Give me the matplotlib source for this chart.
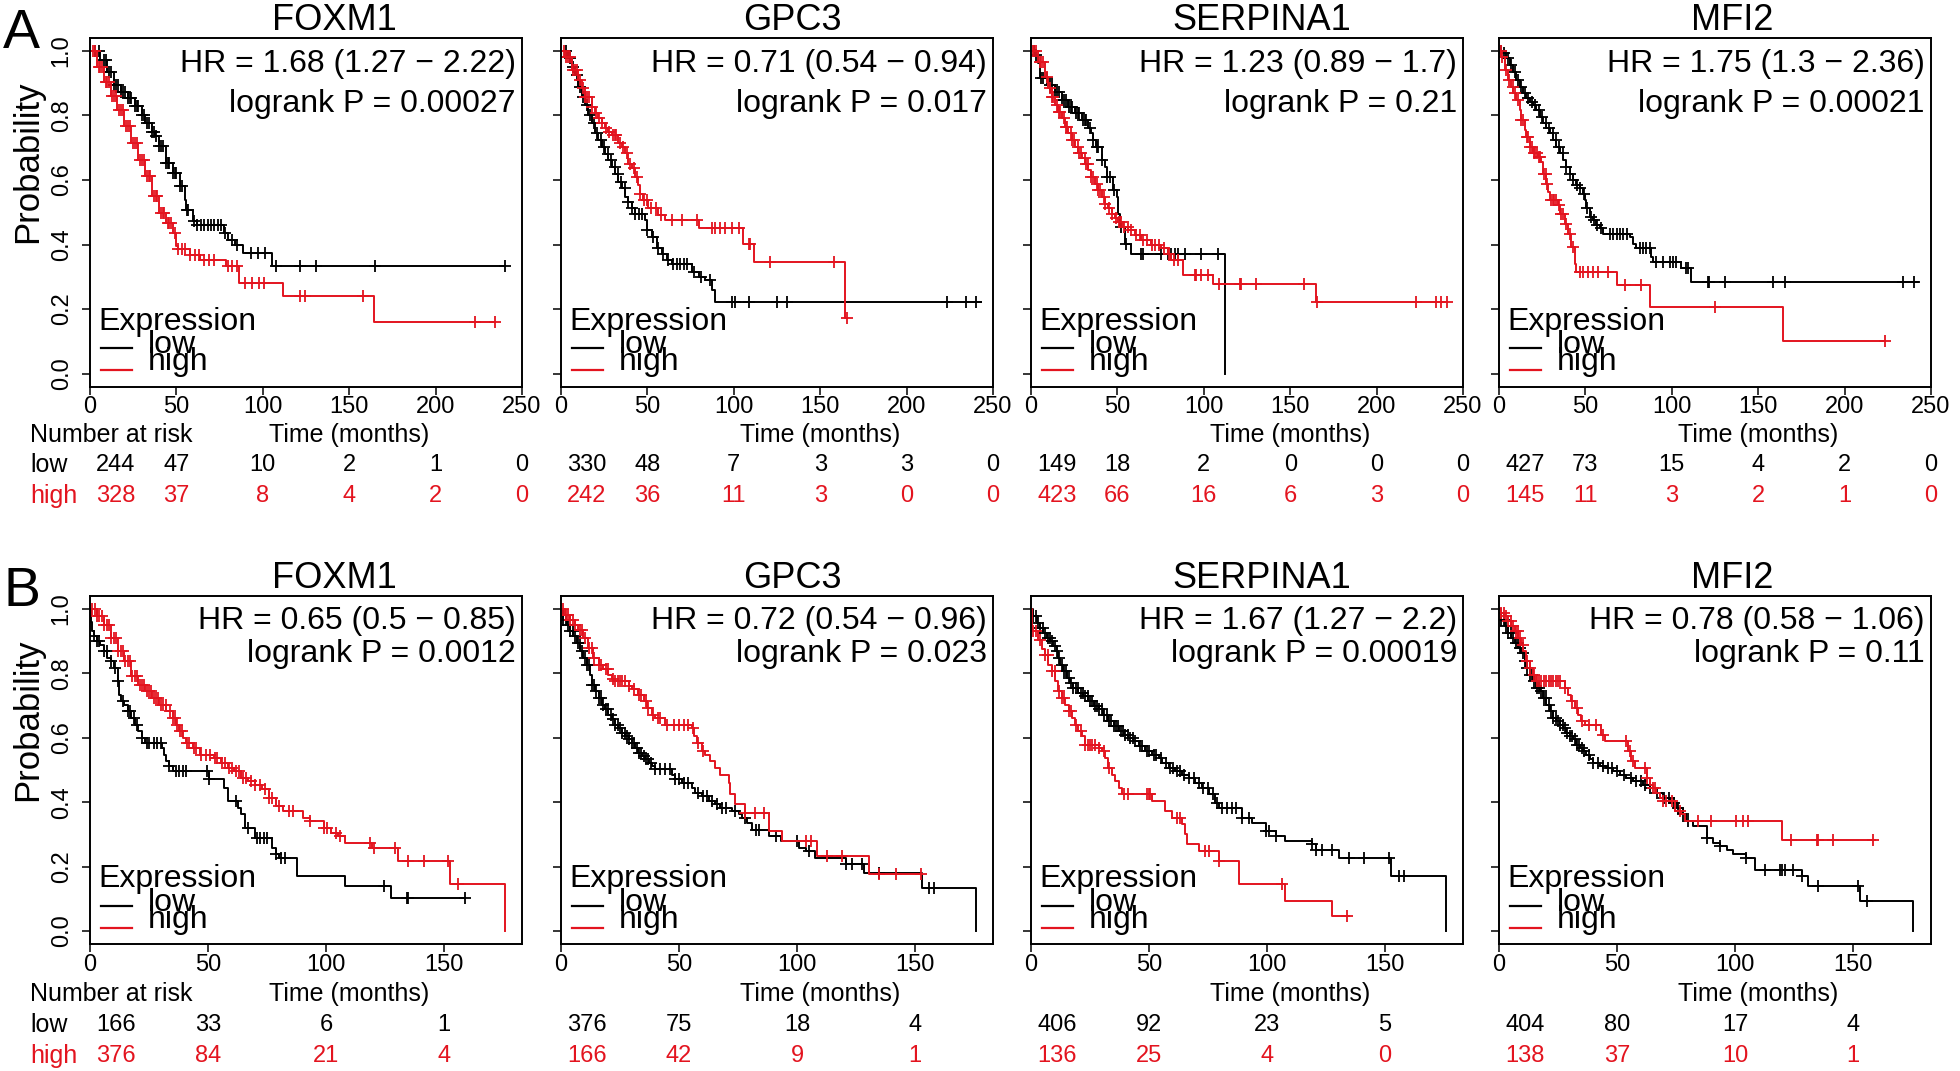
import matplotlib.pyplot as plt
import matplotlib.transforms as mtransforms
from matplotlib import font_manager
import numpy as np

plt.rcParams['font.family'] = ['Liberation Sans', 'DejaVu Sans']

# the risk table and tick labels use a condensed face in the original
_names = {f.name for f in font_manager.fontManager.ttflist}
NARROW = 'Liberation Sans Narrow' if 'Liberation Sans Narrow' in _names else 'Liberation Sans'

LOW = 'black'
HIGH = '#e3141f'

# ---------------- row A (top) ----------------
a1_low_t = [0, 6.0, 10.0, 13.9, 17.9, 21.9, 25.9, 29.9, 31.9, 35.9, 37.8, 39.8, 43.8, 47.8, 51.8, 54.8, 55.8, 59.8, 61.8, 77.7, 79.7, 83.7, 88.6, 105.6]
a1_low_s = [1.0, 0.972, 0.936, 0.895, 0.874, 0.853, 0.828, 0.802, 0.776, 0.750, 0.735, 0.704, 0.652, 0.621, 0.580, 0.539, 0.508, 0.472, 0.461, 0.435, 0.415, 0.399, 0.374, 0.332]
a1_low_end = 240
a1_low_c = [3, 5, 8, 9, 11, 12, 14, 15, 16, 18, 19, 20, 22, 23, 24, 26, 27, 28, 30, 31, 33, 34, 36, 37, 38, 40, 41, 42, 44, 45, 46, 48, 49, 50, 52, 53, 56, 57, 60, 62, 64, 66, 68, 70, 72, 74, 76, 78, 82, 85, 93, 97, 101, 107.6, 121.5, 130.5, 165, 240]
a1_high_t = [0, 4.0, 8.0, 12.0, 15.9, 19.9, 23.9, 27.9, 31.9, 35.9, 39.8, 43.8, 47.8, 49.8, 50.8, 57.8, 63.7, 78.7, 86.3, 111.6, 164.3]
a1_high_s = [1.0, 0.951, 0.905, 0.859, 0.817, 0.766, 0.714, 0.663, 0.611, 0.549, 0.497, 0.466, 0.436, 0.394, 0.386, 0.368, 0.353, 0.332, 0.281, 0.239, 0.159]
a1_high_end = 234.5
a1_high_c = [2, 3, 5, 6, 7, 9, 10, 11, 13, 14, 15, 17, 18, 19, 21, 22, 23, 25, 26, 27, 29, 30, 31, 33, 34, 35, 37, 38, 39, 41, 42, 43, 45, 46, 47, 49, 51, 53, 55, 58, 61, 63, 66, 69, 72, 80, 82, 85, 89.6, 93.6, 97.6, 100.6, 121.5, 124.5, 158, 223, 234.5]

a2_low_t = [0, 4.3, 6.2, 8.1, 10.0, 12.0, 13.9, 15.8, 17.8, 19.7, 21.6, 23.6, 25.5, 27.4, 29.4, 31.3, 33.2, 35.2, 37.1, 39.0, 41.0, 42.9, 48.7, 49.7, 52.5, 55.4, 58.3, 61.2, 64.1, 75.7, 79.6, 83.5, 87.3, 88.9]
a2_low_s = [1.0, 0.977, 0.951, 0.925, 0.889, 0.858, 0.832, 0.801, 0.776, 0.745, 0.724, 0.703, 0.682, 0.662, 0.641, 0.620, 0.595, 0.574, 0.548, 0.533, 0.512, 0.496, 0.476, 0.445, 0.424, 0.388, 0.372, 0.352, 0.341, 0.315, 0.300, 0.290, 0.259, 0.222]
a2_low_end = 243
a2_low_c = [3, 5, 7, 9, 11, 13, 15, 17, 19, 21, 23, 25, 27, 29, 31, 33, 35, 37, 39, 41, 43, 45, 47, 50, 53, 56, 59, 62, 65, 67, 69, 71, 73, 77, 81, 86, 98.9, 100.8, 108.6, 125, 130.8, 223.5, 234.5, 240]
a2_high_t = [0, 2.3, 6.2, 10.0, 12.0, 13.9, 17.8, 19.7, 21.6, 23.6, 25.5, 27.4, 29.4, 33.2, 35.2, 37.1, 39.0, 41.0, 42.9, 44.8, 45.8, 47.7, 50.6, 56.4, 60.3, 79.6, 105.1, 111.5, 164.6]
a2_high_s = [1.0, 0.982, 0.941, 0.910, 0.884, 0.858, 0.827, 0.807, 0.791, 0.776, 0.760, 0.750, 0.739, 0.714, 0.703, 0.683, 0.651, 0.636, 0.610, 0.584, 0.558, 0.538, 0.512, 0.491, 0.476, 0.450, 0.403, 0.346, 0.171]
a2_high_end = 165.6
a2_high_c = [2, 3, 4, 5, 7, 8, 9, 11, 13, 14, 15, 16, 18, 20, 22, 24, 26, 28, 30, 31, 32, 34, 36, 38, 40, 42, 44, 46, 48, 50, 52, 55, 58, 64, 70, 78.6, 87.3, 89.3, 92.2, 95, 98.9, 102.8, 108.6, 109.5, 121, 157.8, 165.6]

a3_low_t = [0, 2.3, 4.2, 5.2, 10.0, 13.9, 17.7, 21.6, 25.4, 29.3, 33.1, 35.0, 36.0, 37.9, 40.8, 42.7, 43.7, 47.5, 49.5, 50.4, 51.4, 54.3, 58.1, 112.0]
a3_low_s = [1.0, 0.988, 0.962, 0.915, 0.895, 0.874, 0.848, 0.827, 0.807, 0.786, 0.760, 0.745, 0.724, 0.703, 0.662, 0.641, 0.610, 0.569, 0.548, 0.496, 0.455, 0.403, 0.372, 0.0]
a3_low_end = 112.0
a3_low_c = [2, 3, 5.5, 7, 9, 11, 12, 14, 15, 16, 18, 19, 20, 22, 23, 24, 26, 27, 28, 30, 31, 32, 34, 36, 38, 39, 41, 44, 46, 48, 52, 55, 63.9, 64.9, 75.4, 79.3, 81.2, 83.1, 85, 88.9, 98.5, 108]
a3_high_t = [0, 4.2, 8.1, 10.0, 11.9, 13.9, 15.8, 17.7, 19.6, 21.6, 23.5, 25.4, 27.3, 29.3, 31.2, 33.1, 35.0, 37.0, 38.9, 40.8, 42.7, 44.6, 46.6, 48.5, 50.4, 53.3, 56.2, 60.0, 63.9, 69.7, 75.4, 79.3, 81.2, 88.0, 105.3, 164.9]
a3_high_s = [1.0, 0.967, 0.920, 0.884, 0.858, 0.832, 0.812, 0.791, 0.765, 0.745, 0.724, 0.703, 0.683, 0.667, 0.651, 0.631, 0.610, 0.589, 0.569, 0.548, 0.527, 0.512, 0.496, 0.481, 0.471, 0.455, 0.445, 0.429, 0.414, 0.398, 0.388, 0.372, 0.352, 0.305, 0.279, 0.222]
a3_high_end = 241
a3_high_c = [1, 2, 3, 5, 6, 7, 9, 11, 12, 13, 15, 16, 17, 19, 20, 21, 23, 24, 25, 27, 28, 29, 31, 32, 33, 35, 36, 38, 39, 40, 42, 43, 45, 47, 49, 51, 52, 54, 56, 58, 61, 63, 65, 67, 70, 72, 74, 77, 80, 83, 85, 94.7, 95.6, 98.5, 102.4, 109, 120.7, 121.6, 130.3, 158.2, 165.5, 222.7, 234.2, 237, 241]

a4_low_t = [0, 2.3, 4.2, 6.2, 8.1, 10.0, 12.0, 13.9, 15.8, 17.8, 19.7, 21.6, 23.6, 25.5, 27.4, 29.3, 31.3, 33.2, 35.1, 37.1, 39.0, 40.9, 42.9, 44.8, 46.7, 48.6, 49.6, 50.6, 52.5, 54.4, 56.4, 58.3, 60.2, 75.7, 77.6, 79.5, 88.2, 89.2, 105.6, 111.4]
a4_low_s = [1.0, 0.993, 0.977, 0.957, 0.936, 0.910, 0.889, 0.869, 0.853, 0.843, 0.832, 0.817, 0.796, 0.776, 0.760, 0.745, 0.724, 0.703, 0.683, 0.662, 0.641, 0.620, 0.600, 0.584, 0.574, 0.558, 0.538, 0.512, 0.486, 0.476, 0.460, 0.450, 0.434, 0.424, 0.403, 0.388, 0.362, 0.346, 0.326, 0.284]
a4_low_end = 242.7
a4_low_c = [1, 3, 5, 7, 9, 11, 13, 15, 17, 19, 21, 23, 25, 27, 29, 31, 33, 35, 37, 39, 41, 43, 45, 47, 49, 51, 53, 55, 57, 59, 64, 66, 68, 70, 72, 74, 81.5, 83.4, 85.3, 87.3, 91, 95, 98.8, 100.8, 102.7, 108.5, 109.5, 121, 121.6, 130.7, 158.3, 165.4, 234, 240.2]
a4_high_t = [0, 1.4, 3.3, 5.2, 7.1, 8.1, 10.0, 12.0, 12.9, 14.9, 15.8, 17.8, 19.7, 22.6, 24.5, 25.5, 27.4, 28.4, 29.3, 34.2, 35.1, 38.0, 40.0, 41.9, 43.8, 44.8, 68.0, 87.3, 164.5]
a4_high_s = [1.0, 0.982, 0.941, 0.910, 0.889, 0.869, 0.848, 0.817, 0.786, 0.755, 0.734, 0.703, 0.683, 0.672, 0.657, 0.620, 0.589, 0.564, 0.538, 0.522, 0.496, 0.465, 0.434, 0.393, 0.341, 0.315, 0.274, 0.207, 0.101]
a4_high_end = 223.4
a4_high_c = [1, 2, 4, 6, 8, 9, 11, 13, 14, 16, 17, 18, 19, 20, 21, 22, 23, 24, 26, 27, 28, 30, 31, 32, 33, 35, 36, 37, 39, 41, 43, 46.7, 48.6, 51.5, 54.4, 57.3, 63.1, 72.8, 82.4, 125, 223.4]

# ---------------- row B (bottom) ----------------
b1_low_t = [0, 0.5, 1.0, 1.5, 2.9, 4.4, 5.8, 7.3, 8.7, 10.2, 11.7, 12.4, 13.1, 14.6, 16.0, 17.5, 19.0, 20.4, 21.9, 23.3, 30.6, 31.3, 32.1, 33.5, 35.0, 50.3, 56.9, 58.3, 62.7, 64.1, 65.6, 70.0, 77.3, 78.7, 80.2, 87.5, 107.9, 127.6]
b1_low_s = [1.0, 0.96, 0.93, 0.915, 0.900, 0.889, 0.869, 0.848, 0.838, 0.817, 0.776, 0.734, 0.714, 0.703, 0.683, 0.662, 0.641, 0.620, 0.600, 0.584, 0.569, 0.548, 0.527, 0.512, 0.496, 0.471, 0.445, 0.403, 0.383, 0.362, 0.321, 0.290, 0.259, 0.238, 0.228, 0.171, 0.140, 0.103]
b1_low_end = 158.9
b1_low_c = [1.5, 3, 4, 6, 7, 9, 10.5, 12, 14, 16, 17, 18.5, 20, 22, 24, 25, 27, 28.5, 30, 33.5, 36.4, 37.9, 39.4, 40.8, 49.6, 50.3, 62, 67, 70.7, 72.2, 73.6, 75.1, 78.7, 80.9, 82.4, 124.6, 134.1, 134.8, 158.9]
b1_high_t = [0, 2.9, 5.8, 8.7, 11.7, 14.6, 17.5, 20.4, 23.3, 26.2, 29.2, 32.1, 35.0, 36.4, 37.9, 39.4, 40.8, 43.7, 46.6, 52.5, 55.4, 58.3, 61.2, 64.1, 67.1, 70.0, 72.9, 75.8, 78.7, 81.6, 90.4, 93.3, 99.1, 102.0, 105.0, 107.9, 119.5, 130.5, 152.3, 175.7]
b1_high_s = [1.0, 0.977, 0.951, 0.910, 0.869, 0.838, 0.791, 0.765, 0.745, 0.724, 0.703, 0.683, 0.662, 0.641, 0.620, 0.600, 0.584, 0.569, 0.548, 0.538, 0.522, 0.507, 0.496, 0.476, 0.465, 0.455, 0.440, 0.414, 0.388, 0.372, 0.352, 0.341, 0.321, 0.305, 0.295, 0.274, 0.259, 0.217, 0.145, 0.0]
b1_high_end = 175.7
b1_high_c = [1, 2, 3, 4, 5, 6, 7, 8, 9, 10, 11, 12, 13, 14, 15, 16, 17, 18, 19, 20, 21, 22, 23, 24, 25, 26, 27, 28, 29, 30, 31, 32, 34, 35, 36, 37, 38, 39, 41, 42, 44, 45, 47, 49, 51, 53, 54, 56, 57, 59, 60, 62, 63, 65, 66, 68, 70, 72, 74, 76, 77, 80, 84.5, 86, 93.3, 99.1, 100.6, 104.2, 105.7, 118.8, 120.3, 129, 134.8, 141.4, 151.6, 156]

b2_low_t = [0, 1.0, 2.4, 3.8, 5.2, 6.7, 8.1, 9.5, 10.9, 12.3, 13.0, 14.4, 15.9, 17.3, 18.7, 20.1, 21.5, 22.9, 24.3, 25.8, 27.2, 28.6, 30.0, 31.4, 32.8, 34.2, 35.7, 37.1, 38.5, 39.9, 47.0, 48.4, 51.2, 55.5, 56.9, 59.7, 62.6, 65.4, 67.5, 72.5, 75.3, 76.7, 78.8, 81.0, 88.0, 93.0, 100.8, 103.6, 107.8, 120.6, 128.4, 153.1, 175.8]
b2_low_s = [1.0, 0.967, 0.951, 0.931, 0.915, 0.895, 0.869, 0.848, 0.827, 0.796, 0.765, 0.745, 0.724, 0.703, 0.688, 0.672, 0.657, 0.641, 0.631, 0.615, 0.605, 0.595, 0.584, 0.569, 0.553, 0.543, 0.533, 0.522, 0.512, 0.502, 0.486, 0.471, 0.460, 0.445, 0.429, 0.419, 0.403, 0.393, 0.383, 0.372, 0.362, 0.352, 0.336, 0.315, 0.295, 0.279, 0.259, 0.248, 0.228, 0.207, 0.181, 0.134, 0.0]
b2_low_end = 175.8
b2_low_c = [1, 2, 3, 4, 5, 6, 7, 8, 9, 10, 11, 12, 13, 14, 15, 16, 17, 18, 19, 20, 21, 22, 23, 24, 25, 26, 27, 28, 29, 30, 31, 32, 33, 34, 35, 36, 37, 38, 40, 42, 44, 46, 48.4, 50, 52, 54, 58, 60, 62, 64, 66, 68, 70, 73.9, 78.1, 82.4, 83.8, 90.9, 100, 105, 120.6, 123.4, 127.7, 134.7, 156, 158]
b2_high_t = [0, 1.7, 3.8, 5.9, 7.4, 9.5, 11.6, 13.7, 15.9, 18.0, 20.1, 21.5, 22.9, 28.6, 30.0, 32.8, 35.0, 36.4, 38.5, 39.9, 44.2, 55.5, 56.2, 57.6, 59.7, 61.1, 63.3, 65.4, 67.5, 71.0, 71.8, 73.9, 78.1, 88.0, 93.7, 108.5, 130.5]
b2_high_s = [1.0, 0.982, 0.967, 0.951, 0.936, 0.910, 0.879, 0.848, 0.827, 0.812, 0.796, 0.781, 0.776, 0.760, 0.750, 0.734, 0.714, 0.693, 0.672, 0.662, 0.641, 0.631, 0.605, 0.584, 0.558, 0.548, 0.527, 0.507, 0.486, 0.460, 0.424, 0.393, 0.367, 0.310, 0.279, 0.233, 0.176]
b2_high_end = 153.1
b2_high_c = [1, 2, 3, 4, 5, 6, 8, 9, 10, 12, 13, 14, 16, 17, 19, 20, 22, 23, 24, 25, 26, 27, 29, 31, 33, 34, 36, 37, 39, 41, 42, 45, 48, 50, 52, 54, 56, 58, 60, 78.1, 82, 86, 103.6, 105.7, 112.8, 119.2, 134.7, 141.8, 152.4]

b3_low_t = [0, 1.0, 2.4, 3.8, 5.2, 6.7, 8.1, 9.5, 10.9, 11.6, 12.3, 13.7, 15.1, 16.6, 18.0, 20.1, 22.2, 24.3, 26.5, 28.6, 30.7, 32.8, 35.0, 37.1, 39.2, 41.3, 43.4, 45.6, 48.4, 51.2, 54.1, 55.5, 58.3, 61.1, 64.0, 66.8, 69.6, 72.5, 75.3, 78.1, 79.5, 89.4, 93.7, 99.4, 103.6, 107.8, 119.2, 120.6, 130.5, 152.4, 175.8]
b3_low_s = [1.0, 0.977, 0.957, 0.941, 0.926, 0.910, 0.900, 0.884, 0.869, 0.848, 0.827, 0.807, 0.786, 0.770, 0.755, 0.739, 0.729, 0.714, 0.698, 0.688, 0.672, 0.651, 0.636, 0.620, 0.610, 0.600, 0.589, 0.574, 0.558, 0.548, 0.538, 0.522, 0.507, 0.496, 0.486, 0.476, 0.460, 0.445, 0.424, 0.398, 0.383, 0.352, 0.336, 0.310, 0.295, 0.279, 0.269, 0.253, 0.228, 0.171, 0.0]
b3_low_end = 175.8
b3_low_c = [1, 2, 3, 4, 5, 6, 7, 8, 9, 10, 11, 12, 13, 14, 15, 16, 17, 18, 19, 20, 21, 22, 23, 24, 25, 26, 27, 28, 29, 30, 31, 32, 33, 34, 35, 36, 37, 38, 39, 40, 41, 42, 43, 44, 46, 47, 49, 50, 52, 53, 55, 57, 59, 60, 62, 63, 65, 67, 69, 71, 73, 75, 77, 79, 81, 83, 85, 87, 89.4, 92.3, 99.4, 100.8, 103.6, 119.2, 120.6, 123.4, 127.7, 134.7, 141.1, 151.7, 156, 158]
b3_high_t = [0, 0.3, 3.1, 4.5, 5.9, 7.4, 8.8, 10.2, 11.6, 13.0, 14.4, 15.9, 17.3, 18.7, 20.1, 21.5, 22.9, 28.6, 30.0, 31.4, 32.8, 34.2, 35.7, 37.1, 38.5, 51.2, 56.9, 59.7, 64.0, 65.4, 66.1, 71.0, 79.5, 88.0, 107.8, 127.7]
b3_high_s = [1.0, 0.931, 0.905, 0.874, 0.858, 0.827, 0.807, 0.776, 0.745, 0.724, 0.703, 0.683, 0.662, 0.641, 0.620, 0.605, 0.579, 0.569, 0.558, 0.538, 0.507, 0.486, 0.465, 0.445, 0.424, 0.403, 0.372, 0.352, 0.331, 0.300, 0.269, 0.248, 0.217, 0.145, 0.093, 0.047]
b3_high_end = 134.7
b3_high_c = [1, 2, 4, 6, 7, 9, 10, 12, 13, 14, 16, 17, 19, 21, 23, 24, 25, 26, 27, 29, 31, 33, 39.2, 41.3, 49.1, 49.8, 50.5, 61.8, 63.3, 73.9, 75.3, 79.5, 106.4, 134]

b4_low_t = [0, 1.0, 2.4, 3.8, 5.2, 6.6, 8.1, 9.5, 10.9, 11.6, 13.0, 14.4, 15.8, 17.2, 18.7, 20.1, 21.5, 22.9, 24.3, 25.7, 27.1, 28.5, 30.0, 31.4, 32.8, 34.2, 35.6, 37.0, 38.4, 39.8, 42.7, 45.5, 48.3, 51.2, 54.0, 56.8, 61.0, 63.9, 66.7, 69.5, 72.3, 75.2, 78.0, 79.4, 82.2, 87.9, 90.7, 93.5, 96.4, 99.2, 104.8, 108.4, 128.2, 131.0, 152.9, 175.5]
b4_low_s = [1.0, 0.967, 0.946, 0.926, 0.910, 0.895, 0.879, 0.864, 0.838, 0.817, 0.796, 0.776, 0.755, 0.745, 0.724, 0.703, 0.683, 0.662, 0.651, 0.641, 0.631, 0.615, 0.605, 0.595, 0.579, 0.569, 0.558, 0.548, 0.533, 0.522, 0.512, 0.507, 0.496, 0.486, 0.476, 0.465, 0.455, 0.445, 0.429, 0.414, 0.398, 0.383, 0.362, 0.341, 0.326, 0.290, 0.274, 0.264, 0.253, 0.238, 0.228, 0.191, 0.171, 0.140, 0.093, 0.0]
b4_low_end = 175.5
b4_low_c = [1, 2, 3, 4, 5, 6, 7, 8, 9, 10, 11, 12, 13, 14, 15, 16, 17, 18, 19, 20, 21, 22, 23, 24, 25, 26, 27, 28, 29, 30, 31, 32, 33, 34, 35, 36, 38, 40, 42, 44, 46, 48, 50, 53, 56, 58, 60, 62, 64, 67, 70, 72, 74, 76, 78, 80, 87.9, 93.5, 104.8, 112.6, 119, 119.7, 121.1, 124.6, 128.2, 135.2, 152.2, 155.7]
b4_high_t = [0, 1.0, 2.4, 3.8, 5.2, 6.6, 8.1, 9.5, 10.2, 11.6, 13.0, 14.4, 15.8, 27.8, 29.2, 30.7, 32.1, 33.5, 34.9, 36.3, 43.4, 44.8, 54.7, 56.1, 57.5, 62.5, 63.9, 65.3, 66.7, 68.1, 69.5, 74.5, 77.3, 78.7, 119.7]
b4_high_s = [1.0, 0.988, 0.977, 0.962, 0.946, 0.931, 0.910, 0.889, 0.869, 0.838, 0.817, 0.796, 0.776, 0.755, 0.734, 0.714, 0.693, 0.672, 0.651, 0.641, 0.610, 0.589, 0.558, 0.527, 0.507, 0.476, 0.455, 0.445, 0.429, 0.414, 0.403, 0.372, 0.362, 0.341, 0.284]
b4_high_end = 159.2
b4_high_c = [1, 2, 3, 4, 5, 6, 7, 8, 9, 10, 12, 13, 15, 16, 17, 18, 19, 20, 21, 22, 23, 24, 25, 26, 28, 31, 33, 35, 38, 41, 44, 54, 55.4, 56.8, 61.7, 62.5, 65.3, 66, 69.5, 70.9, 73.1, 76.6, 84.4, 90, 100.6, 103.4, 105.6, 123.9, 134.5, 135.2, 141.6, 158.5]

genes = ['FOXM1', 'GPC3', 'SERPINA1', 'MFI2']
a_hr = ['HR = 1.68 (1.27 \u2212 2.22)', 'HR = 0.71 (0.54 \u2212 0.94)', 'HR = 1.23 (0.89 \u2212 1.7)', 'HR = 1.75 (1.3 \u2212 2.36)']
a_p = ['logrank P = 0.00027', 'logrank P = 0.017', 'logrank P = 0.21', 'logrank P = 0.00021']
b_hr = ['HR = 0.65 (0.5 \u2212 0.85)', 'HR = 0.72 (0.54 \u2212 0.96)', 'HR = 1.67 (1.27 \u2212 2.2)', 'HR = 0.78 (0.58 \u2212 1.06)']
b_p = ['logrank P = 0.0012', 'logrank P = 0.023', 'logrank P = 0.00019', 'logrank P = 0.11']

a_ticks = [0, 50, 100, 150, 200, 250]
b_ticks = [0, 50, 100, 150]
a_risk_low = [[244, 47, 10, 2, 1, 0], [330, 48, 7, 3, 3, 0], [149, 18, 2, 0, 0, 0], [427, 73, 15, 4, 2, 0]]
a_risk_high = [[328, 37, 8, 4, 2, 0], [242, 36, 11, 3, 0, 0], [423, 66, 16, 6, 3, 0], [145, 11, 3, 2, 1, 0]]
b_risk_low = [[166, 33, 6, 1], [376, 75, 18, 4], [406, 92, 23, 5], [404, 80, 17, 4]]
b_risk_high = [[376, 84, 21, 4], [166, 42, 9, 1], [136, 25, 4, 0], [138, 37, 10, 1]]

a_curves = [
    (a1_low_t, a1_low_s, a1_low_end, a1_low_c, a1_high_t, a1_high_s, a1_high_end, a1_high_c),
    (a2_low_t, a2_low_s, a2_low_end, a2_low_c, a2_high_t, a2_high_s, a2_high_end, a2_high_c),
    (a3_low_t, a3_low_s, a3_low_end, a3_low_c, a3_high_t, a3_high_s, a3_high_end, a3_high_c),
    (a4_low_t, a4_low_s, a4_low_end, a4_low_c, a4_high_t, a4_high_s, a4_high_end, a4_high_c),
]
b_curves = [
    (b1_low_t, b1_low_s, b1_low_end, b1_low_c, b1_high_t, b1_high_s, b1_high_end, b1_high_c),
    (b2_low_t, b2_low_s, b2_low_end, b2_low_c, b2_high_t, b2_high_s, b2_high_end, b2_high_c),
    (b3_low_t, b3_low_s, b3_low_end, b3_low_c, b3_high_t, b3_high_s, b3_high_end, b3_high_c),
    (b4_low_t, b4_low_s, b4_low_end, b4_low_c, b4_high_t, b4_high_s, b4_high_end, b4_high_c),
]

# ---------------- layout (pixels) ----------------
W, H = 1960, 1071
fig = plt.figure(figsize=(W / 100, H / 100), dpi=100)

lefts = [90, 561, 1031, 1499]
pw = 432
title_x = [0.566, 0.536, 0.535, 0.54]

rows = [
    dict(letter='A', top=38, bottom=386.5, xmax=250, ticks=a_ticks, curves=a_curves, hr=a_hr, p=a_p,
         rlow=a_risk_low, rhigh=a_risk_high, risk_y=[435, 465, 496], hr_y=0.903, p_y=0.789),
    dict(letter='B', top=596, bottom=944, xmax=183, ticks=b_ticks, curves=b_curves, hr=b_hr, p=b_p,
         rlow=b_risk_low, rhigh=b_risk_high, risk_y=[994, 1025, 1056], hr_y=0.905, p_y=0.811),
]

TXT = 23
RISK = 18
NUM = 20 if NARROW != 'Liberation Sans' else 17


def km(ax, t, s, end, cens, color):
    ax.step(list(t) + [end], list(s) + [s[-1]], where='post', color=color, lw=1.4)
    idx = np.searchsorted(t, cens, side='right') - 1
    ax.plot(cens, np.asarray(s)[idx], ls='none', marker='+', ms=8, mew=1.3, color=color)


for row in rows:
    ph = row['bottom'] - row['top']
    fig.text(3 / W, 1 - (row['top'] + 10) / H, row['letter'], fontsize=40, va='baseline')
    for i in range(4):
        ax = fig.add_axes([lefts[i] / W, 1 - row['bottom'] / H, pw / W, ph / H])
        lt, ls_, le, lc, ht, hs, he, hc = row['curves'][i]
        km(ax, lt, ls_, le, lc, LOW)
        km(ax, ht, hs, he, hc, HIGH)

        ax.set_xlim(0, row['xmax'])
        ax.set_ylim(-0.04, 1.04)
        ax.set_xticks(row['ticks'])
        ax.set_yticks([0, 0.2, 0.4, 0.6, 0.8, 1.0])
        for sp in ax.spines.values():
            sp.set_linewidth(1.4)
        ax.tick_params(direction='out', length=5.5, width=1.1, labelsize=NUM, pad=1.5)
        for lab in ax.get_xticklabels() + ax.get_yticklabels():
            lab.set_family([NARROW, 'DejaVu Sans'])
        if i == 0:
            ax.set_yticklabels(['0.0', '0.2', '0.4', '0.6', '0.8', '1.0'], rotation=90, va='center',
                               family=[NARROW, 'DejaVu Sans'])
            ax.tick_params(axis='y', pad=7)
            ax.text((28 - lefts[0]) / pw, 0.644, 'Probability', transform=ax.transAxes,
                    rotation=90, ha='center', va='center', fontsize=25)
        else:
            ax.tick_params(axis='y', labelleft=False)

        ax.text(title_x[i], 1 + 8 / ph, genes[i], transform=ax.transAxes,
                ha='center', va='baseline', fontsize=26)
        ax.text(0.986, row['hr_y'], row['hr'][i], transform=ax.transAxes, ha='right', va='baseline', fontsize=TXT)
        ax.text(0.986, row['p_y'], row['p'][i], transform=ax.transAxes, ha='right', va='baseline', fontsize=TXT)

        # legend, drawn like R's legend(title='Expression')
        ax.text(0.0185, 0.163, 'Expression', transform=ax.transAxes, ha='left', va='baseline', fontsize=TXT)
        ax.plot([0.025, 0.098], [0.110, 0.110], transform=ax.transAxes, color=LOW, lw=1.6)
        ax.plot([0.025, 0.098], [0.047, 0.047], transform=ax.transAxes, color=HIGH, lw=1.6)
        ax.text(0.133, 0.096, 'low', transform=ax.transAxes, ha='left', va='baseline', fontsize=TXT)
        ax.text(0.133, 0.046, 'high', transform=ax.transAxes, ha='left', va='baseline', fontsize=TXT)

        # number at risk table
        ry = [(row['bottom'] - y) / ph for y in row['risk_y']]
        trans = ax.get_xaxis_transform()
        first = mtransforms.offset_copy(trans, fig=fig, x=6, y=0, units='dots')
        ax.text(0.6, ry[0], 'Time (months)', transform=ax.transAxes, ha='center', va='center', fontsize=RISK)
        if i == 0:
            xl = (30 - lefts[0]) / pw
            ax.text(xl, ry[0], 'Number at risk', transform=ax.transAxes, ha='left', va='center', fontsize=RISK)
            ax.text(xl, ry[1], 'low', transform=ax.transAxes, ha='left', va='center', fontsize=RISK, color=LOW)
            ax.text(xl, ry[2], 'high', transform=ax.transAxes, ha='left', va='center', fontsize=RISK, color=HIGH)
        for j, x in enumerate(row['ticks']):
            tr = first if j == 0 else trans
            ha = 'left' if j == 0 else 'center'
            ax.text(x, ry[1], str(row['rlow'][i][j]), transform=tr, ha=ha, va='center',
                    fontsize=NUM, color=LOW, clip_on=False, family=[NARROW, 'DejaVu Sans'])
            ax.text(x, ry[2], str(row['rhigh'][i][j]), transform=tr, ha=ha, va='center',
                    fontsize=NUM, color=HIGH, clip_on=False, family=[NARROW, 'DejaVu Sans'])

fig.savefig('out.png', dpi=100)
